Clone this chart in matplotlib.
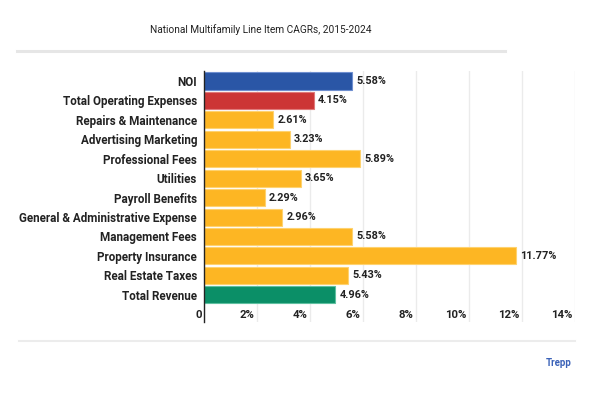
import matplotlib
matplotlib.use("Agg")
import matplotlib.pyplot as plt
from matplotlib.lines import Line2D
from matplotlib.transforms import ScaledTranslation

categories = ["NOI", "Total Operating Expenses", "Repairs & Maintenance", "Advertising Marketing",
              "Professional Fees", "Utilities", "Payroll Benefits", "General & Administrative Expense",
              "Management Fees", "Property Insurance", "Real Estate Taxes", "Total Revenue"]
values = [5.58, 4.15, 2.61, 3.23, 5.89, 3.65, 2.29, 2.96, 5.58, 11.77, 5.43, 4.96]
value_labels = ["5.58%", "4.15%", "2.61%", "3.23%", "5.89%", "3.65%", "2.29%", "2.96%",
                "5.58%", "11.77%", "5.43%", "4.96%"]
tick_values = [0, 2, 4, 6, 8, 10, 12, 14]
tick_labels = ["0", "2%", "4%", "6%", "8%", "10%", "12%", "14%"]

BLUE, RED, YELLOW, GREEN = "#2a56a6", "#cc3535", "#fdb623", "#0b8f67"
colors = [BLUE, RED] + [YELLOW] * 9 + [GREEN]
edges = ["#6f8fd0", "#e07a7a"] + ["#fed26f"] * 9 + ["#5fc0a0"]

plt.rcParams["font.family"] = ["Roboto", "DejaVu Sans"]

W, H = 595, 394
fig = plt.figure(figsize=(W / 100, H / 100), dpi=100)
ax = fig.add_axes([204 / W, 1 - 322 / H, (575 - 204) / W, (322 - 71.3) / H])

ypos = list(range(len(categories)))
ax.barh(ypos, values, height=0.88, color=colors, edgecolor=edges, linewidth=0.8, zorder=3)
for y, v, lab in zip(ypos, values, value_labels):
    ax.annotate(lab, (v, y), xytext=(3, 0), textcoords="offset points", va="center", ha="left",
                fontsize=7.8, fontweight="bold", color="#222222")

ax.set_xlim(0, 14)
ax.set_ylim(12.4, -0.5)
ax.set_yticks(ypos, categories)
ax.set_xticks(tick_values, tick_labels)
ax.tick_params(axis="x", length=0, pad=-8.5, labelsize=8.2, colors="#222222")
shift = ScaledTranslation(-2.5 / 100, 0, fig.dpi_scale_trans)
for t in ax.get_xticklabels():
    t.set_ha("right")
    t.set_fontweight("bold")
    t.set_transform(t.get_transform() + shift)
ax.tick_params(axis="y", length=0, pad=5, labelsize=8.4, colors="#222222")
for t in ax.get_yticklabels():
    t.set_fontweight("bold")

ax.grid(axis="x", color="#ebebeb", linewidth=1, zorder=0)
for s in ["top", "right", "bottom"]:
    ax.spines[s].set_visible(False)
ax.spines["left"].set_color("#222222")
ax.spines["left"].set_linewidth(1)
ax.spines["left"].set_zorder(4)

fig.text(261 / W, 1 - 30 / H, "National Multifamily Line Item CAGRs, 2015-2024", ha="center", va="center",
         fontsize=7.3, color="#222222")
fig.add_artist(Line2D([17 / W, 505 / W], [1 - 51 / H] * 2, color="#e6e6e6", linewidth=2.2))
fig.add_artist(Line2D([19 / W, 575 / W], [1 - 341 / H] * 2, color="#ececec", linewidth=1.5))
fig.text(559 / W, 1 - 363 / H, "Trepp", ha="center", va="center", fontsize=7, fontweight="bold",
         color="#3b62b8")

fig.savefig("out.png", dpi=100, facecolor="white")
